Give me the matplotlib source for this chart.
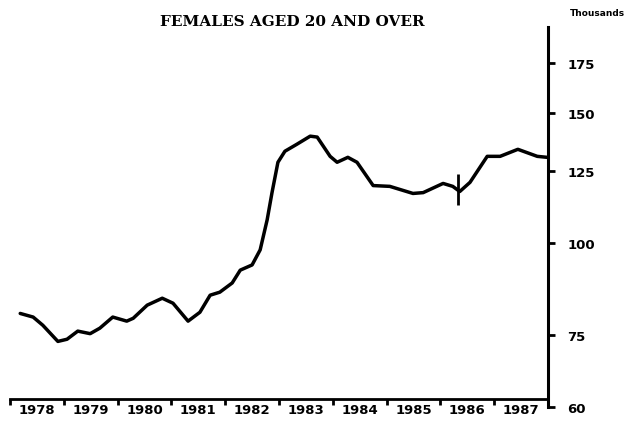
import matplotlib.pyplot as plt
from matplotlib.ticker import FixedLocator, NullLocator

# Females aged 20 and over, thousands
years = [1978.19, 1978.43, 1978.61, 1978.89, 1979.06, 1979.26, 1979.49, 1979.67,
         1979.91, 1980.17, 1980.29, 1980.55, 1980.83, 1981.03, 1981.31, 1981.53,
         1981.72, 1981.90, 1982.13, 1982.28, 1982.50, 1982.65, 1982.78, 1982.87,
         1982.98, 1983.11, 1983.33, 1983.58, 1983.71, 1983.95, 1984.08, 1984.28,
         1984.45, 1984.75, 1985.06, 1985.49, 1985.68, 1986.05, 1986.23, 1986.36,
         1986.55, 1986.87, 1987.11, 1987.44, 1987.80, 1987.98]
values = [80.3, 79.4, 77.4, 73.6, 74.1, 76.0, 75.4, 76.7,
          79.4, 78.4, 79.1, 82.4, 84.2, 82.9, 78.4, 80.6,
          85.0, 85.8, 88.3, 91.9, 93.4, 97.9, 107.5, 117.0,
          128.6, 133.1, 136.0, 139.5, 139.1, 131.0, 128.6, 130.6,
          128.6, 119.6, 119.3, 116.7, 117.0, 120.4, 119.3, 117.4,
          120.8, 131.0, 131.0, 133.9, 131.0, 130.6]

# series break marker
break_year = 1986.33
break_lo, break_hi = 112.6, 123.8

year_labels = ['1978', '1979', '1980', '1981', '1982',
               '1983', '1984', '1985', '1986', '1987']
y_ticks = [60, 75, 100, 125, 150, 175]

W, H = 627, 439
fig = plt.figure(figsize=(W / 100, H / 100), dpi=100)

left, right = 10 / W, 548 / W
ax = fig.add_axes([left, (H - 408) / H, right - left, (408 - 28) / H])
ax.plot(years, values, color='black', lw=2.5, solid_capstyle='round',
        solid_joinstyle='round')
ax.vlines(break_year, break_lo, break_hi, color='black', lw=2)

ax.set_yscale('log')
ax.set_ylim(60, 196)
ax.set_xlim(1978, 1988)
for s in ['left', 'top', 'bottom']:
    ax.spines[s].set_visible(False)
ax.spines['right'].set_linewidth(2.2)
ax.yaxis.tick_right()
ax.yaxis.set_major_locator(FixedLocator(y_ticks))
ax.yaxis.set_minor_locator(NullLocator())
ax.set_yticklabels([str(v) for v in y_ticks], fontsize=9.5, fontweight='bold')
ax.tick_params(axis='y', length=5, width=2, pad=9)
ax.set_xticks([])

# separate x axis line a little above the bottom of the value scale
axx = fig.add_axes([left, (H - 400) / H, right - left, 0.0001])
axx.set_xlim(1978, 1988)
for s in ['left', 'top', 'right']:
    axx.spines[s].set_visible(False)
axx.spines['bottom'].set_linewidth(2)
axx.set_yticks([])
axx.set_xticks(range(1978, 1989))
axx.set_xticklabels([])
axx.set_xticks([y + 0.5 for y in range(1978, 1988)], minor=True)
axx.set_xticklabels(year_labels, minor=True, fontsize=9.5, fontweight='bold')
axx.tick_params(axis='x', which='major', length=4, width=2, direction='out')
axx.tick_params(axis='x', which='minor', length=0, pad=3)

fig.text(292 / W, (H - 22) / H, 'FEMALES AGED 20 AND OVER', ha='center', va='center',
         fontsize=11, fontweight='bold', family='DejaVu Serif')
fig.text(597 / W, (H - 13) / H, 'Thousands', ha='center', va='center',
         fontsize=6.5, fontweight='bold')

fig.savefig('out.png', dpi=100)
